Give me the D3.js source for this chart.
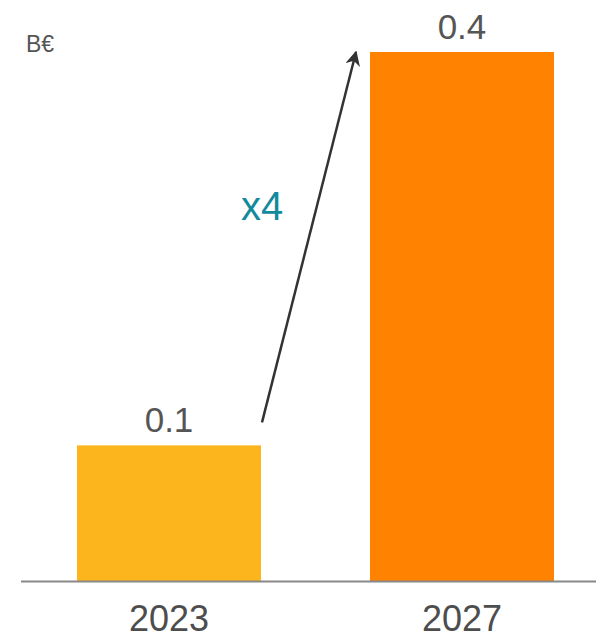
<!DOCTYPE html>
<html>
<head>
<meta charset="utf-8">
<script src="https://cdn.jsdelivr.net/npm/d3@7"></script>
<style>
  body { margin: 0; background: #fff; }
  svg { display: block; font-family: "Liberation Sans", Arial, sans-serif; }
</style>
</head>
<body>
<div id="chart"></div>
<script>
const years = ["2023", "2027"];
const values = [0.1, 0.39];
const barColors = ["#fdb51e", "#ff8300"];
const unitLabel = "B€";
const growthLabel = "x4";

const width = 596, height = 634;
const baseY = 581;

const svg = d3.select("#chart").append("svg")
  .attr("width", width)
  .attr("height", height);

const x = d3.scaleBand()
  .domain(years)
  .range([77, 554])
  .paddingInner(0.372)
  .paddingOuter(0);

const y = d3.scaleLinear()
  .domain([0, 0.39])
  .range([baseY, 52]);

const fmt = d3.format(".1f");

// bars
svg.selectAll("rect.bar")
  .data(years)
  .enter()
  .append("rect")
  .attr("class", "bar")
  .attr("x", d => x(d))
  .attr("width", x.bandwidth())
  .attr("y", (d, i) => y(values[i]))
  .attr("height", (d, i) => baseY - y(values[i]))
  .attr("fill", (d, i) => barColors[i]);

// baseline
svg.append("line")
  .attr("x1", 21)
  .attr("x2", width)
  .attr("y1", baseY + 0.5)
  .attr("y2", baseY + 0.5)
  .attr("stroke", "#888")
  .attr("stroke-width", 2);

// x axis labels
const xAxis = svg.append("g")
  .attr("transform", `translate(0,${baseY})`)
  .call(d3.axisBottom(x).tickSize(0).tickPadding(0));
xAxis.select(".domain").remove();
xAxis.selectAll("text")
  .attr("y", 50)
  .attr("dy", null)
  .attr("font-size", "36px")
  .attr("font-family", "Liberation Sans, Arial, sans-serif")
  .attr("fill", "#4d4d4d");

// value labels
svg.selectAll("text.val")
  .data(years)
  .enter()
  .append("text")
  .attr("class", "val")
  .attr("x", d => x(d) + x.bandwidth() / 2)
  .attr("y", (d, i) => y(values[i]) - 13)
  .attr("text-anchor", "middle")
  .attr("font-size", "35px")
  .attr("fill", "#555")
  .text((d, i) => fmt(values[i]));

// unit
svg.append("text")
  .attr("x", 26)
  .attr("y", 52)
  .attr("font-size", "23px")
  .attr("fill", "#555")
  .text(unitLabel);

// growth arrow
svg.append("defs").append("marker")
  .attr("id", "arrowhead")
  .attr("viewBox", "0 0 10 10")
  .attr("refX", 9)
  .attr("refY", 5)
  .attr("markerWidth", 6)
  .attr("markerHeight", 6)
  .attr("markerUnits", "strokeWidth")
  .attr("orient", "auto")
  .append("path")
  .attr("d", "M0,0 L10,5 L0,10 L3,5 Z")
  .attr("fill", "#333");

const x0 = x(years[0]) + x.bandwidth() + 1;
const y0 = y(values[0]) - 23;
const x1 = x(years[1]) - 14;
const y1 = y(values[1]);

svg.append("line")
  .attr("x1", x0)
  .attr("y1", y0)
  .attr("x2", x1)
  .attr("y2", y1)
  .attr("stroke", "#333")
  .attr("stroke-width", 2.5)
  .attr("marker-end", "url(#arrowhead)");

svg.append("text")
  .attr("x", 241)
  .attr("y", 220)
  .attr("font-size", "40px")
  .attr("fill", "#138a9c")
  .text(growthLabel);
</script>
</body>
</html>
